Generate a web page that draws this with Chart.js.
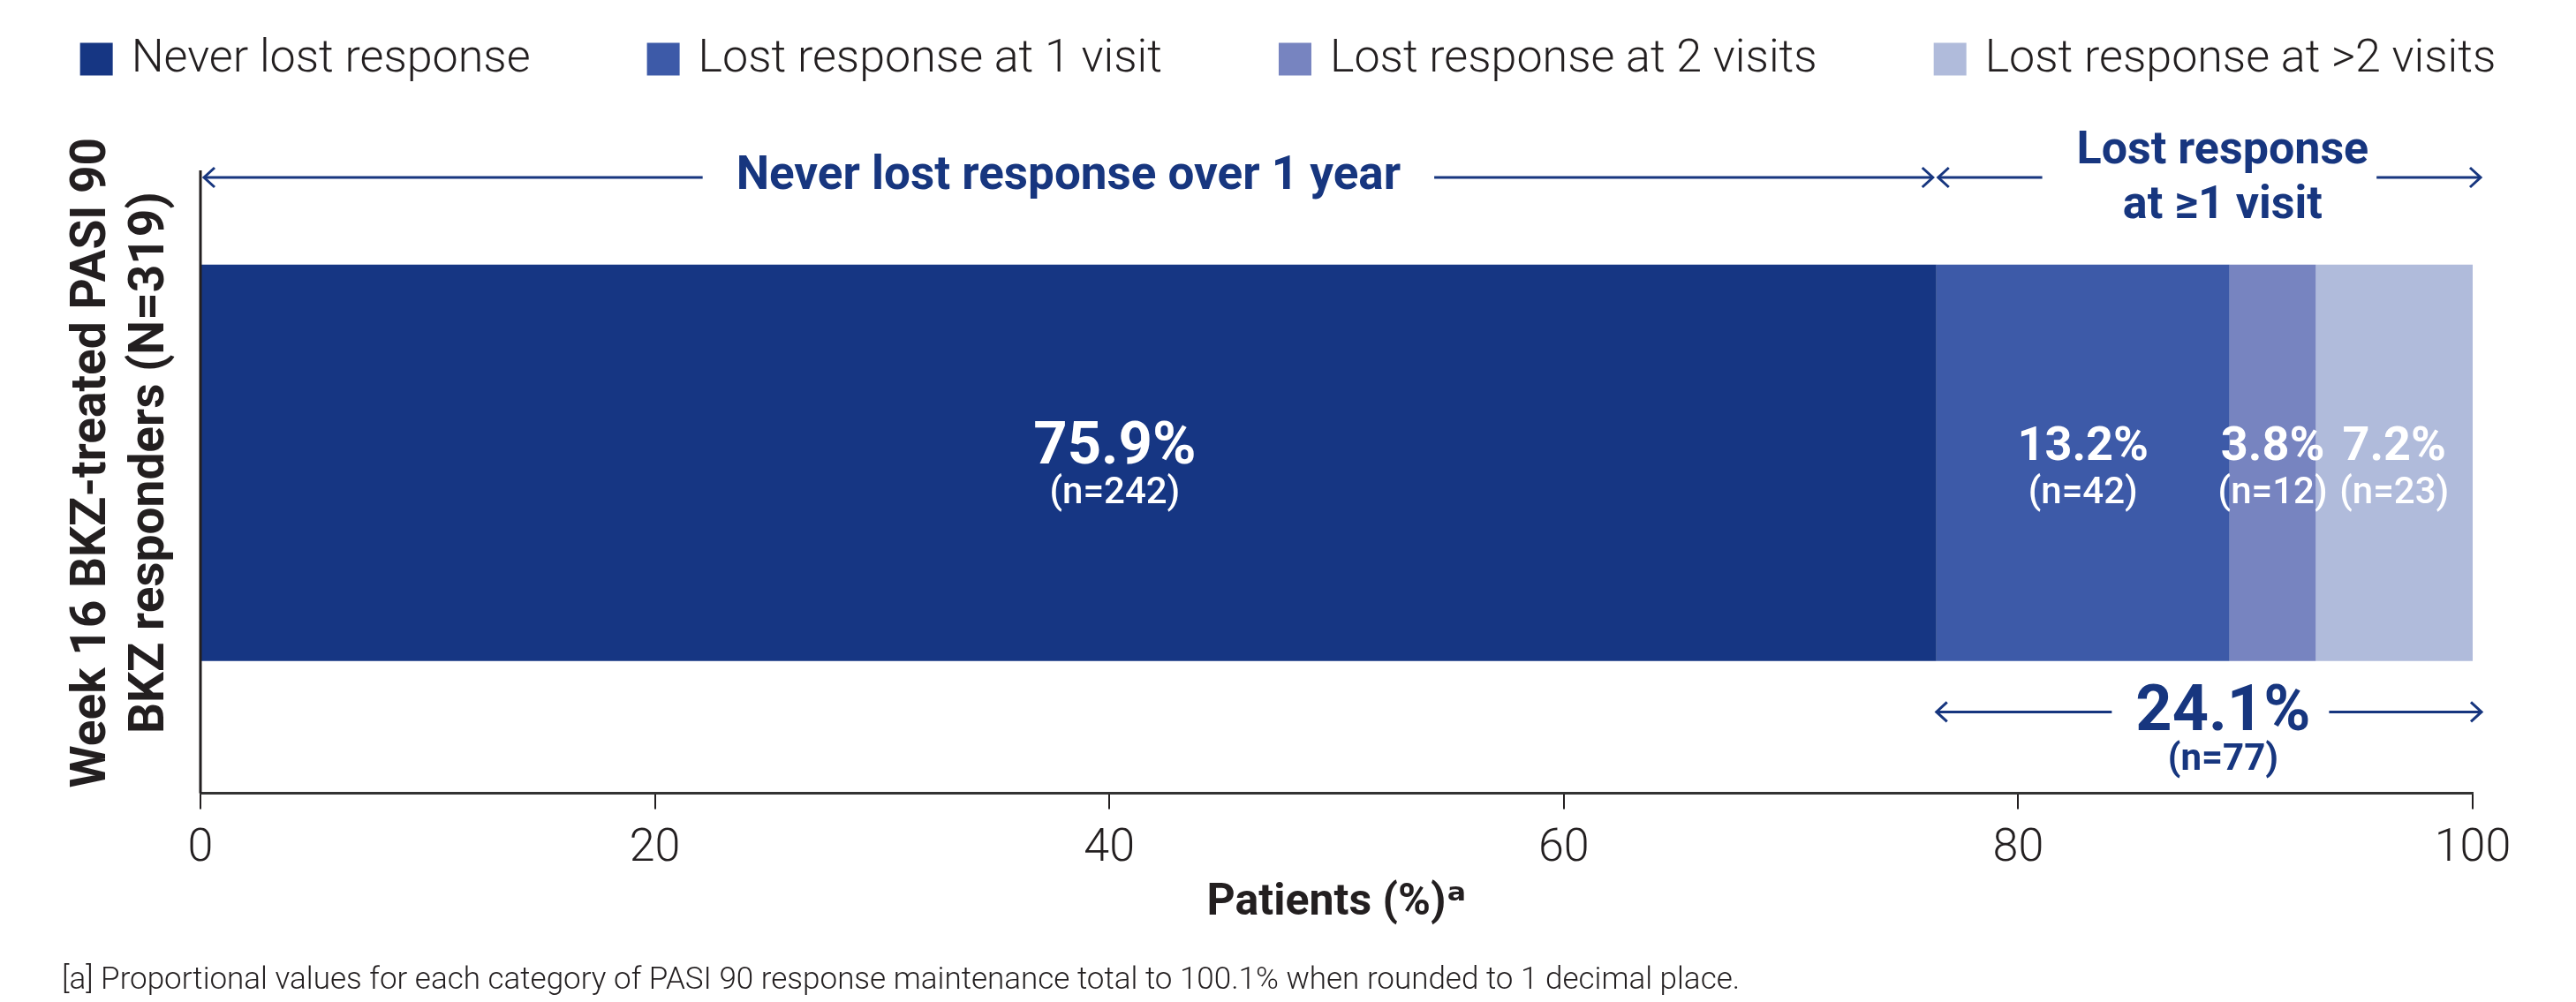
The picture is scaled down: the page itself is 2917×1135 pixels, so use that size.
<!DOCTYPE html>
<html>
<head>
<meta charset="utf-8">
<script src="https://cdn.jsdelivr.net/npm/chart.js@4.4.1/dist/chart.umd.min.js"></script>
<style>
html,body{margin:0;padding:0;background:#ffffff;}
#wrap{width:2917px;height:1135px;}
</style>
</head>
<body>
<div id="wrap"><canvas id="c" width="2917" height="1135"></canvas></div>
<script>
// ---------- data ----------
const categories = ['Week 16 BKZ-treated PASI 90 BKZ responders (N=319)'];
const seriesNames = ['Never lost response', 'Lost response at 1 visit', 'Lost response at 2 visits', 'Lost response at >2 visits'];
const neverLost = [76.4];
const lostAt1Visit = [12.9];
const lostAt2Visits = [3.8];
const lostAtMoreVisits = [6.9];
const pctLabels = ['75.9%', '13.2%', '3.8%', '7.2%'];
const nLabels = ['(n=242)', '(n=42)', '(n=12)', '(n=23)'];
const xTicks = [0, 20, 40, 60, 80, 100];
const yTitle = ['Week 16 BKZ-treated PASI 90', 'BKZ responders (N=319)'];
const xTitle = 'Patients (%)ᵃ';
const neverNote = 'Never lost response over 1 year';
const lostNote = ['Lost response', 'at ≥1 visit'];
const lostTotal = '24.1%';
const lostTotalN = '(n=77)';
const footnote = '[a] Proportional values for each category of PASI 90 response maintenance total to 100.1% when rounded to 1 decimal place.';

// ---------- styles ----------
const FONT = "Roboto, 'DejaVu Sans', sans-serif";
const NAVY = '#17367f';
const INK = '#231f20';
const colors = ['#163683', '#3d5aa8', '#7784c0', '#b0bbdb'];
Chart.defaults.font.family = FONT;
Chart.defaults.color = INK;

function arrowHead(ctx, x, y, dir) {
  ctx.beginPath();
  ctx.moveTo(x - dir * 12, y - 11);
  ctx.lineTo(x, y);
  ctx.lineTo(x - dir * 12, y + 11);
  ctx.stroke();
}
function spanArrow(ctx, x0, x1, y, gapCenter, halfGap) {
  ctx.beginPath();
  ctx.moveTo(x0, y); ctx.lineTo(gapCenter - halfGap, y);
  ctx.moveTo(gapCenter + halfGap, y); ctx.lineTo(x1, y);
  ctx.stroke();
  arrowHead(ctx, x0, y, -1);
  arrowHead(ctx, x1, y, 1);
}

const annotationPlugin = {
  id: 'annotations',
  afterDatasetsDraw(chart) {
    const ctx = chart.ctx;
    ctx.save();
    ctx.fillStyle = '#ffffff';
    ctx.textAlign = 'center';
    ctx.textBaseline = 'alphabetic';
    chart.data.datasets.forEach((ds, i) => {
      const el = chart.getDatasetMeta(i).data[0];
      const cx = (el.x + el.base) / 2 + (i === 0 ? 52 : 0);
      ctx.font = (i === 0 ? '700 67px ' : '700 54px ') + FONT;
      ctx.fillText(pctLabels[i], cx, el.y + (i === 0 ? 1 : -3));
      ctx.font = '500 42px ' + FONT;
      ctx.fillText(nLabels[i], cx, el.y + 46);
    });
    ctx.restore();
  },
  afterDraw(chart) {
    const ctx = chart.ctx;
    const area = chart.chartArea;
    const xs = chart.scales.x;
    ctx.save();

    // legend built from dataset labels/colours
    ctx.font = '300 52px ' + FONT;
    ctx.textBaseline = 'middle';
    ctx.textAlign = 'left';
    const box = 37, boxGap = 21, itemGap = 132, legendY = 67;
    const items = chart.data.datasets.map(d => ({ text: d.label, color: d.backgroundColor, w: box + boxGap + ctx.measureText(d.label).width }));
    const total = items.reduce((s, it) => s + it.w, 0) + itemGap * (items.length - 1);
    let lx = chart.width / 2 - total / 2;
    items.forEach(it => {
      ctx.fillStyle = it.color;
      ctx.fillRect(lx, legendY - box / 2, box, box);
      ctx.fillStyle = INK;
      ctx.fillText(it.text, lx + box + boxGap, legendY + 1);
      lx += it.w + itemGap;
    });

    // y axis line
    const x0 = xs.getPixelForValue(0);
    ctx.strokeStyle = INK;
    ctx.lineWidth = 3;
    ctx.beginPath();
    ctx.moveTo(x0, area.top + 43);
    ctx.lineTo(x0, area.bottom);
    ctx.stroke();

    // bracket arrows
    const split = xs.getPixelForValue(neverLost[0]);
    const xEnd = xs.getPixelForValue(100);
    ctx.strokeStyle = NAVY;
    ctx.fillStyle = NAVY;
    ctx.lineWidth = 3;
    ctx.textAlign = 'center';
    ctx.textBaseline = 'alphabetic';

    const topY = area.top + 51;
    ctx.font = '700 53px ' + FONT;
    const a0 = x0 + 4, a1 = split - 4;
    const c1 = (a0 + a1) / 2;
    const w1 = ctx.measureText(neverNote).width;
    spanArrow(ctx, a0, a1, topY, c1, w1 / 2 + 38);
    ctx.fillText(neverNote, c1, area.top + 64);

    ctx.font = '700 52px ' + FONT;
    const b0 = split + 2, b1 = xEnd + 9;
    const c2 = (b0 + b1) / 2;
    const w2 = Math.max(...lostNote.map(t => ctx.measureText(t).width));
    spanArrow(ctx, b0, b1, topY, c2, w2 / 2 + 24);
    ctx.fillText(lostNote[0], c2 + 15, area.top + 35);
    ctx.fillText(lostNote[1], c2 + 15, area.top + 97);

    const botY = area.bottom - 92;
    ctx.font = '700 72px ' + FONT;
    const w3 = ctx.measureText(lostTotal).width;
    const c3 = (split + xEnd + 10) / 2 + 13;
    spanArrow(ctx, split, xEnd + 10, botY, c3, w3 / 2 + 24);
    ctx.fillText(lostTotal, c3 + 3, area.bottom - 71);
    ctx.font = '700 42px ' + FONT;
    ctx.fillText(lostTotalN, c3 + 3, area.bottom - 26);

    ctx.restore();
  }
};

new Chart(document.getElementById('c'), {
  type: 'bar',
  data: {
    labels: categories,
    datasets: [
      { label: seriesNames[0], data: neverLost, backgroundColor: colors[0] },
      { label: seriesNames[1], data: lostAt1Visit, backgroundColor: colors[1] },
      { label: seriesNames[2], data: lostAt2Visits, backgroundColor: colors[2] },
      { label: seriesNames[3], data: lostAtMoreVisits, backgroundColor: colors[3] }
    ]
  },
  options: {
    indexAxis: 'y',
    responsive: false,
    animation: false,
    devicePixelRatio: 1,
    layout: { padding: { top: 150, left: 70, right: 117, bottom: 0 } },
    datasets: { bar: { barPercentage: 0.6, categoryPercentage: 1.0, borderWidth: 0 } },
    scales: {
      x: {
        type: 'linear', stacked: true, min: 0, max: 100,
        afterBuildTicks: s => { s.ticks = xTicks.map(v => ({ value: v })); },
        grid: { display: true, drawOnChartArea: false, drawTicks: true, tickLength: 18, color: INK, lineWidth: 2 },
        border: { display: true, color: '#333333', width: 3 },
        ticks: { font: { size: 52, weight: '300', lineHeight: 1.2 }, color: INK, padding: 14.4, maxRotation: 0 },
        title: { display: true, text: xTitle, font: { size: 50, weight: '700', lineHeight: 1.2 }, color: INK, padding: { top: -14.6, bottom: 10 } }
      },
      y: {
        stacked: true,
        grid: { display: false, drawTicks: false, tickLength: 0 },
        border: { display: false },
        ticks: { display: false },
        title: { display: true, text: yTitle, font: { size: 55, weight: '700', lineHeight: 1.2 }, color: INK, padding: { top: 2, bottom: 23 } }
      }
    },
    plugins: {
      legend: { display: false },
      tooltip: { enabled: false },
      subtitle: {
        display: true, position: 'bottom', align: 'start', text: footnote,
        font: { size: 35, weight: '300', lineHeight: 1.2 }, color: INK, padding: { top: 27, bottom: 3 }
      }
    }
  },
  plugins: [annotationPlugin]
});
</script>
</body>
</html>
